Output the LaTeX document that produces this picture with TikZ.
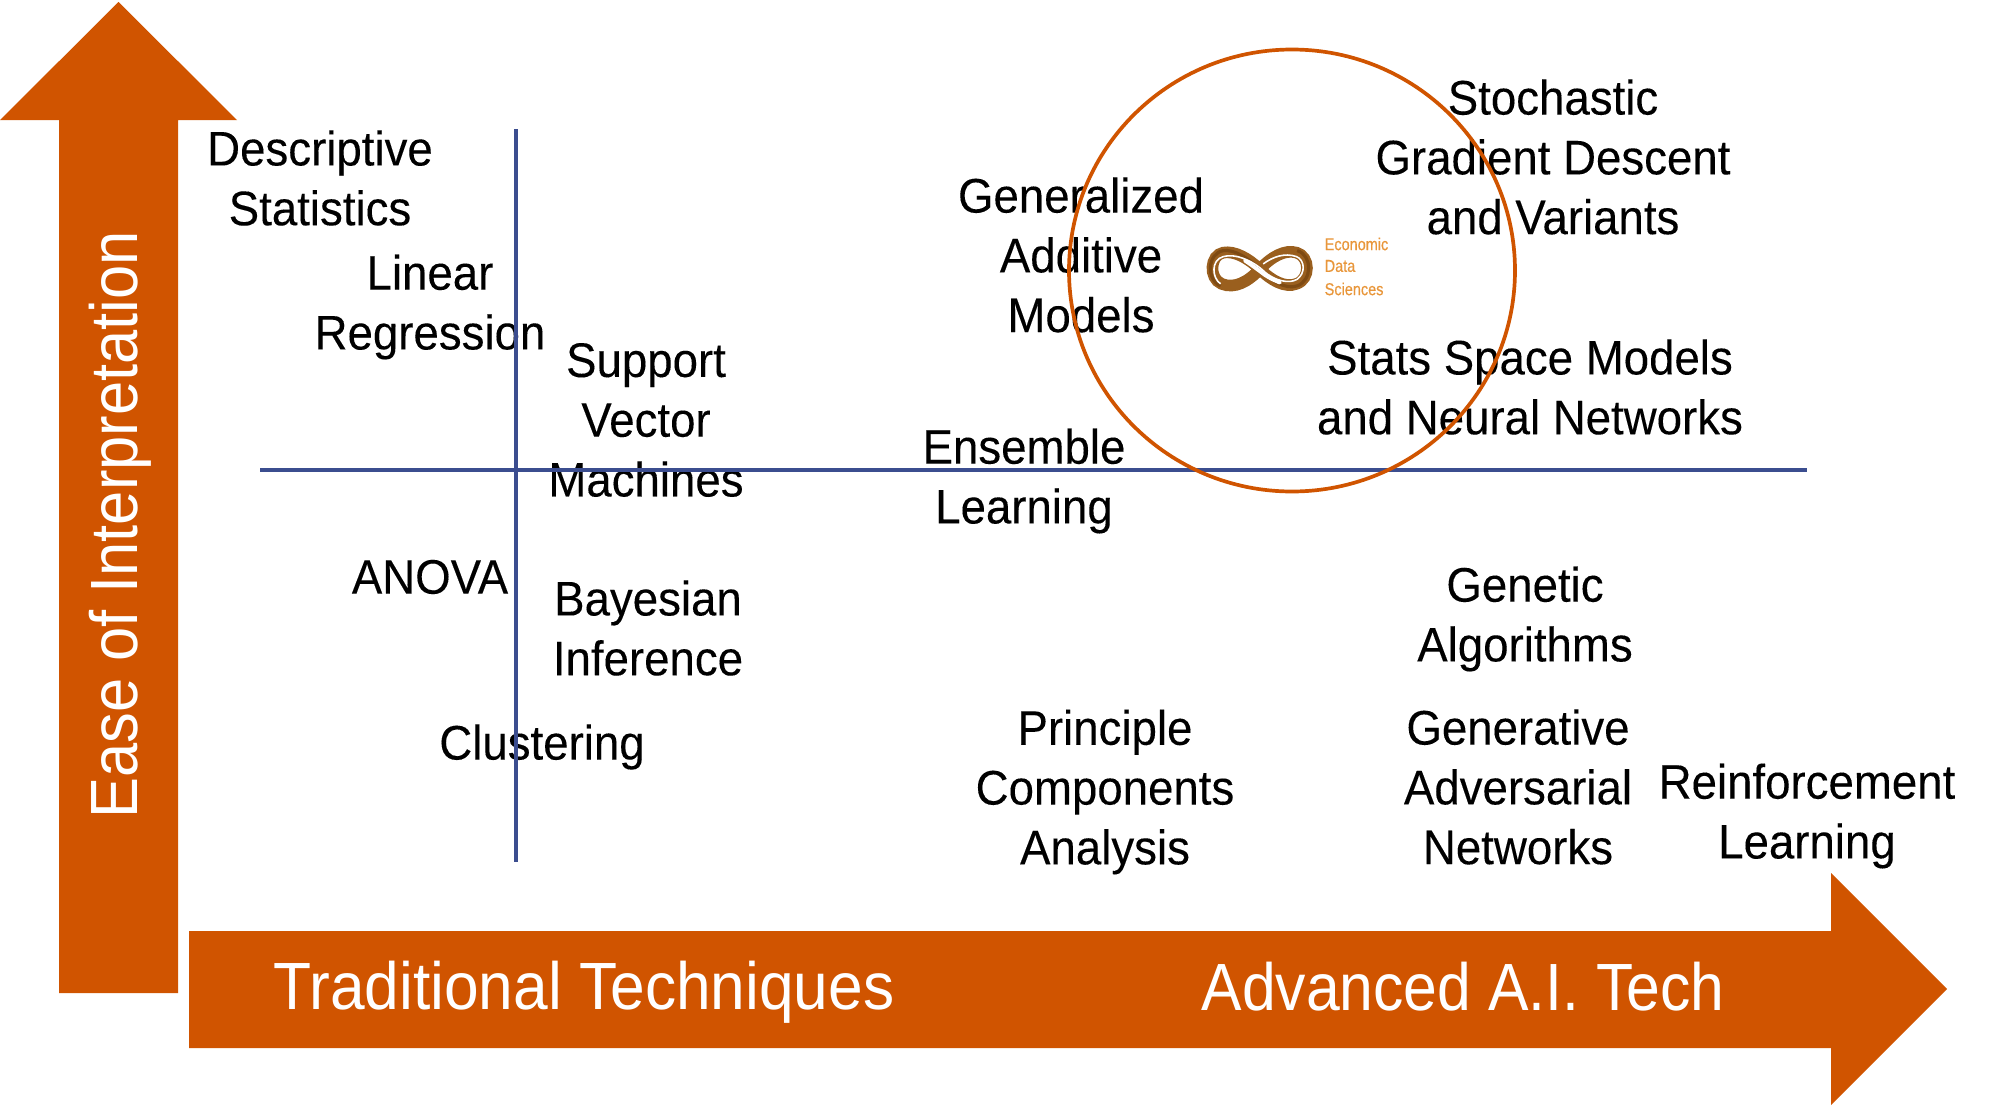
\documentclass[tikz,border=0pt]{standalone}
\usepackage{fontspec}
\setmainfont{Liberation Sans}
\newfontfamily\termfont[FakeStretch=0.94,FakeBold=0.15]{Liberation Sans}
\newfontfamily\logofont[FakeStretch=0.84,FakeBold=0.5]{Liberation Sans}
\newfontfamily\bandfont[FakeStretch=0.92]{Liberation Sans}
\definecolor{bandorange}{HTML}{D05400}
\definecolor{axisblue}{HTML}{3B4D8F}
\definecolor{logobrown}{HTML}{9A5F1E}
\definecolor{logodark}{HTML}{7E4A12}
\definecolor{logotext}{HTML}{E8963A}
\tikzset{
  x=0.01cm,y=-0.01cm,
  band/.style={fill=bandorange,draw=none},
  term/.style={align=center,inner sep=0pt,text=black,font=\termfont\fontsize{13.8}{17}\selectfont},
  bandtext/.style={inner sep=0pt,text=white,font=\bandfont\fontsize{19}{23}\selectfont},
  axisline/.style={draw=axisblue,line width=1.05pt},
  ring/.style={draw=bandorange,line width=1.05pt},
  logotxt/.style={inner sep=0pt,anchor=west,text=logotext,font=\logofont\fontsize{4.9}{6}\selectfont}
}
\begin{document}
\begin{tikzpicture}
\useasboundingbox (0,0) rectangle (1999,1106);
\path[band] (59,993) -- (59,120) -- (0,120) -- (118.5,2) -- (237,120) -- (178,120) -- (178,993) -- cycle;
\path[band] (189,931) -- (1831,931) -- (1831,873) -- (1947,989) -- (1831,1105) -- (1831,1048) -- (189,1048) -- cycle;
\node[bandtext,rotate=90] (ease) at (120,525) {Ease of Interpretation};
\node[bandtext,xscale=1.013] (trad) at (584,992) {Traditional Techniques};
\node[bandtext,xscale=0.987] (adv) at (1463,987) {Advanced A.I. Tech};

\node[term] (desc) at (320,178) {Descriptive\\Statistics};
\node[term] (linreg) at (430,307) {Linear\\Regression};
\node[term] (svm) at (646,420) {Support\\Vector\\Machines};
\node[term] (gam) at (1081,255) {Generalized\\Additive\\Models};
\node[term] (sgd) at (1553,157) {Stochastic\\Gradient Descent\\and Variants};
\node[term] (ssm) at (1530,387) {Stats Space Models\\and Neural Networks};
\node[term] (ens) at (1024,481) {Ensemble\\Learning};
\node[term] (anova) at (430,577) {ANOVA};
\node[term] (bayes) at (648,628) {Bayesian\\Inference};
\node[term] (clust) at (542,747) {Clustering};
\node[term] (ga) at (1525,619) {Genetic\\Algorithms};
\node[term] (pca) at (1105,792) {Principle\\Components\\Analysis};
\node[term] (gan) at (1518,787) {Generative\\Adversarial\\Networks};
\node[term] (rl) at (1807,816) {Reinforcement\\Learning};

\coordinate (vtop) at (516,129);
\coordinate (vbot) at (516,862);
\coordinate (hleft) at (260,470);
\coordinate (hright) at (1807,470);
\draw[axisline] (vtop) -- (vbot);
\draw[axisline] (hleft) -- (hright);
\draw[ring] (1292,270.5) ellipse [x radius=223, y radius=221];

% logo, in the coordinates of a 3x crop at (1180,210)
\begin{scope}[shift={(1180,210)},x=0.00333cm,y=-0.00333cm]
\draw[logobrown,line width=3.3pt] (240,178) .. controls (205,145) and (165,122) .. (130,128)
  .. controls (90,135) and (85,205) .. (125,222) .. controls (165,238) and (205,215) .. (240,178)
  .. controls (275,140) and (315,118) .. (350,128) .. controls (392,140) and (392,208) .. (350,222)
  .. controls (315,235) and (275,212) .. (240,178) -- cycle;
\draw[logodark,line width=0.9pt] (240,178) .. controls (205,145) and (165,118) .. (130,122) .. controls (82,130) and (78,210) .. (122,228);
\draw[logodark,line width=0.9pt] (240,178) .. controls (275,212) and (315,240) .. (352,228) .. controls (398,212) and (398,135) .. (352,122);
\draw[white,line width=0.45pt] (122,222) .. controls (96,205) and (92,150) .. (130,140) .. controls (165,130) and (215,150) .. (250,182) .. controls (285,215) and (330,222) .. (352,208) .. controls (378,190) and (375,150) .. (350,140) .. controls (315,128) and (280,140) .. (250,162);
\draw[white,line width=1.1pt,line cap=round] (195,152) .. controls (215,165) and (235,180) .. (255,195) .. controls (270,205) and (285,212) .. (300,218);
\end{scope}
\node[logotxt] (logo1) at (1324,244) {Economic};
\node[logotxt] (logo2) at (1324,266) {Data};
\node[logotxt] (logo3) at (1324,289) {Sciences};
\end{tikzpicture}
\end{document}
